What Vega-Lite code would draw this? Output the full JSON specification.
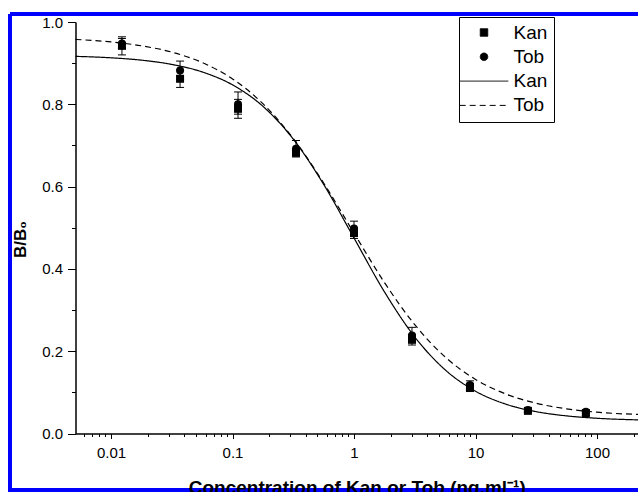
{
  "$schema": "https://vega.github.io/schema/vega-lite/v6.json",
  "width": 660,
  "height": 476,
  "autosize": "none",
  "padding": {"left": 10, "top": 14, "right": -32, "bottom": 2},
  "background": "white",
  "view": {"stroke": "#0000ff", "strokeWidth": 4, "strokeDash": [660, 476, 1136, 0]},
  "config": {
    "font": "Liberation Sans",
    "axis": {
      "grid": false,
      "domainColor": "black",
      "domainWidth": 1.5,
      "tickColor": "black",
      "tickWidth": 1,
      "labelColor": "black",
      "titleColor": "black",
      "labelFont": "Liberation Sans",
      "titleFont": "Liberation Sans",
      "labelFontSize": 15,
      "titleFontWeight": "bold"
    }
  },
  "datasets": {
    "pts": [
      {"x": 0.0123, "y": 0.942, "lo": 0.920, "hi": 0.964, "key": "Kan pts"},
      {"x": 0.037, "y": 0.862, "lo": 0.841, "hi": 0.883, "key": "Kan pts"},
      {"x": 0.111, "y": 0.789, "lo": 0.766, "hi": 0.812, "key": "Kan pts"},
      {"x": 0.333, "y": 0.682, "lo": 0.672, "hi": 0.692, "key": "Kan pts"},
      {"x": 1, "y": 0.487, "lo": 0.474, "hi": 0.500, "key": "Kan pts"},
      {"x": 3, "y": 0.228, "lo": 0.215, "hi": 0.241, "key": "Kan pts"},
      {"x": 9, "y": 0.112, "lo": 0.102, "hi": 0.122, "key": "Kan pts"},
      {"x": 27, "y": 0.055, "lo": 0.051, "hi": 0.059, "key": "Kan pts"},
      {"x": 81, "y": 0.049, "lo": 0.044, "hi": 0.054, "key": "Kan pts"},
      {"x": 0.0123, "y": 0.948, "lo": 0.936, "hi": 0.960, "key": "Tob pts"},
      {"x": 0.037, "y": 0.882, "lo": 0.860, "hi": 0.905, "key": "Tob pts"},
      {"x": 0.111, "y": 0.800, "lo": 0.776, "hi": 0.830, "key": "Tob pts"},
      {"x": 0.333, "y": 0.692, "lo": 0.675, "hi": 0.712, "key": "Tob pts"},
      {"x": 1, "y": 0.498, "lo": 0.482, "hi": 0.516, "key": "Tob pts"},
      {"x": 3, "y": 0.238, "lo": 0.220, "hi": 0.258, "key": "Tob pts"},
      {"x": 9, "y": 0.118, "lo": 0.108, "hi": 0.128, "key": "Tob pts"},
      {"x": 27, "y": 0.057, "lo": 0.053, "hi": 0.061, "key": "Tob pts"},
      {"x": 81, "y": 0.053, "lo": 0.048, "hi": 0.058, "key": "Tob pts"}
    ],
    "fit": [
      {"x": 0.0051, "y": 0.9165, "key": "Kan fit"},
      {"x": 0.01, "y": 0.9130, "key": "Kan fit"},
      {"x": 0.01778, "y": 0.9073, "key": "Kan fit"},
      {"x": 0.03162, "y": 0.8969, "key": "Kan fit"},
      {"x": 0.05623, "y": 0.8787, "key": "Kan fit"},
      {"x": 0.1, "y": 0.8472, "key": "Kan fit"},
      {"x": 0.1778, "y": 0.7952, "key": "Kan fit"},
      {"x": 0.3162, "y": 0.7154, "key": "Kan fit"},
      {"x": 0.5623, "y": 0.6055, "key": "Kan fit"},
      {"x": 1, "y": 0.4750, "key": "Kan fit"},
      {"x": 1.778, "y": 0.3445, "key": "Kan fit"},
      {"x": 3.162, "y": 0.2346, "key": "Kan fit"},
      {"x": 5.623, "y": 0.1548, "key": "Kan fit"},
      {"x": 10, "y": 0.1028, "key": "Kan fit"},
      {"x": 17.78, "y": 0.0713, "key": "Kan fit"},
      {"x": 31.62, "y": 0.0531, "key": "Kan fit"},
      {"x": 56.23, "y": 0.0428, "key": "Kan fit"},
      {"x": 100, "y": 0.0370, "key": "Kan fit"},
      {"x": 217.5, "y": 0.0331, "key": "Kan fit"},
      {"x": 0.0051, "y": 0.9577, "key": "Tob fit"},
      {"x": 0.01, "y": 0.9515, "key": "Tob fit"},
      {"x": 0.01778, "y": 0.9422, "key": "Tob fit"},
      {"x": 0.03162, "y": 0.9268, "key": "Tob fit"},
      {"x": 0.05623, "y": 0.9016, "key": "Tob fit"},
      {"x": 0.1, "y": 0.8617, "key": "Tob fit"},
      {"x": 0.1778, "y": 0.8015, "key": "Tob fit"},
      {"x": 0.3162, "y": 0.7168, "key": "Tob fit"},
      {"x": 0.5623, "y": 0.6088, "key": "Tob fit"},
      {"x": 1, "y": 0.4869, "key": "Tob fit"},
      {"x": 1.778, "y": 0.3672, "key": "Tob fit"},
      {"x": 3.162, "y": 0.2645, "key": "Tob fit"},
      {"x": 5.623, "y": 0.1861, "key": "Tob fit"},
      {"x": 10, "y": 0.1315, "key": "Tob fit"},
      {"x": 17.78, "y": 0.0959, "key": "Tob fit"},
      {"x": 31.62, "y": 0.0736, "key": "Tob fit"},
      {"x": 56.23, "y": 0.0599, "key": "Tob fit"},
      {"x": 100, "y": 0.0518, "key": "Tob fit"},
      {"x": 217.5, "y": 0.0463, "key": "Tob fit"}
    ]
  },
  "encoding": {
    "x": {
      "field": "x",
      "type": "quantitative",
      "title": "Concentration of Kan or Tob (ng.ml⁻¹)",
      "scale": {"type": "log", "domain": [0.0051, 217.5], "range": [65.5, 628], "nice": false},
      "axis": {
        "orient": "bottom",
        "offset": -56.5,
        "values": [0.006, 0.007, 0.008, 0.009, 0.01, 0.02, 0.03, 0.04, 0.05, 0.06, 0.07, 0.08, 0.09, 0.1, 0.2, 0.3, 0.4, 0.5, 0.6, 0.7, 0.8, 0.9, 1, 2, 3, 4, 5, 6, 7, 8, 9, 10, 20, 30, 40, 50, 60, 70, 80, 90, 100, 200],
        "format": "~g",
        "labelExpr": "abs(log(datum.value)/LN10 - round(log(datum.value)/LN10)) < 0.000001 ? datum.label : ''",
        "tickSize": {"condition": {"test": "abs(log(datum.value)/LN10 - round(log(datum.value)/LN10)) < 0.000001", "value": 5}, "value": 3},
        "labelPadding": 7,
        "labelOverlap": false,
        "labelFlush": false,
        "titleFontSize": 19,
        "titlePadding": 18
      }
    }
  },
  "layer": [
    {
      "data": {"name": "fit"},
      "mark": {"type": "line", "interpolate": "monotone", "color": "black", "strokeWidth": 1.2},
      "encoding": {
        "y": {
          "field": "y",
          "type": "quantitative",
          "title": "B/B₀",
          "scale": {"domain": [0, 1], "range": [419.5, 8], "nice": false, "zero": false},
          "axis": {
            "orient": "left",
            "offset": -65.5,
            "values": [0, 0.1, 0.2, 0.3, 0.4, 0.5, 0.6, 0.7, 0.8, 0.9, 1],
            "format": ".1f",
            "labelExpr": "round(datum.value*10) % 2 == 0 ? datum.label : ''",
            "tickSize": {"condition": {"test": "round(datum.value*10) % 2 == 0", "value": 8}, "value": 4},
            "labelPadding": 5,
            "labelOverlap": false,
            "titleFontSize": 17,
            "titlePadding": 12,
            "titleY": 225
          }
        },
        "strokeDash": {
          "field": "key",
          "type": "nominal",
          "scale": {"domain": ["Kan pts", "Tob pts", "Kan fit", "Tob fit"], "range": [[1, 0], [1, 0], [1, 0], [6, 4]]},
          "legend": {
            "title": null,
            "orient": "none",
            "legendX": 449,
            "legendY": 3,
            "direction": "vertical",
            "labelExpr": "split(datum.label, ' ')[0] + '  '",
            "labelFont": "Liberation Sans",
            "labelFontSize": 19,
            "labelColor": "black",
            "symbolSize": 56,
            "symbolOffset": 9.5,
            "labelOffset": 20,
            "rowPadding": 4.3,
            "padding": 6,
            "strokeColor": "black",
            "fillColor": "white",
            "symbolStrokeWidth": 1,
            "symbolFillColor": "black",
            "symbolStrokeColor": "black",
            "encode": {"symbols": {"update": {"fill": {"value": "black"}, "fillOpacity": {"value": 1}, "stroke": {"value": "black"}, "strokeOpacity": {"value": 1}, "strokeWidth": {"value": 1}, "opacity": {"value": 1}}}}
          }
        }
      }
    },
    {
      "data": {"name": "pts"},
      "mark": {"type": "rule", "color": "black", "strokeWidth": 1},
      "encoding": {
        "y": {"field": "lo", "type": "quantitative", "title": "B/B₀", "scale": {"domain": [0, 1], "range": [419.5, 8], "nice": false, "zero": false}},
        "y2": {"field": "hi"}
      }
    },
    {
      "data": {"name": "pts"},
      "mark": {"type": "point", "shape": "stroke", "size": 64, "color": "black", "strokeWidth": 1, "filled": false, "opacity": 1},
      "encoding": {
        "y": {"field": "lo", "type": "quantitative", "title": "B/B₀", "scale": {"domain": [0, 1], "range": [419.5, 8], "nice": false, "zero": false}}
      }
    },
    {
      "data": {"name": "pts"},
      "mark": {"type": "point", "shape": "stroke", "size": 64, "color": "black", "strokeWidth": 1, "filled": false, "opacity": 1},
      "encoding": {
        "y": {"field": "hi", "type": "quantitative", "title": "B/B₀", "scale": {"domain": [0, 1], "range": [419.5, 8], "nice": false, "zero": false}}
      }
    },
    {
      "data": {"name": "pts"},
      "mark": {"type": "point", "filled": true, "color": "black", "size": 64, "opacity": 1},
      "encoding": {
        "y": {"field": "y", "type": "quantitative", "title": "B/B₀", "scale": {"domain": [0, 1], "range": [419.5, 8], "nice": false, "zero": false}},
        "shape": {
          "field": "key",
          "type": "nominal",
          "scale": {"domain": ["Kan pts", "Tob pts", "Kan fit", "Tob fit"], "range": ["square", "circle", "M-6.5,0H6.5", "M-6.5,0H6.5"]},
          "legend": {
            "title": null,
            "orient": "none",
            "legendX": 449,
            "legendY": 3,
            "direction": "vertical",
            "labelExpr": "split(datum.label, ' ')[0] + '  '",
            "labelFont": "Liberation Sans",
            "labelFontSize": 19,
            "labelColor": "black",
            "symbolSize": 56,
            "symbolOffset": 9.5,
            "labelOffset": 20,
            "rowPadding": 4.3,
            "padding": 6,
            "strokeColor": "black",
            "fillColor": "white",
            "symbolStrokeWidth": 1,
            "symbolFillColor": "black",
            "symbolStrokeColor": "black",
            "encode": {"symbols": {"update": {"fill": {"value": "black"}, "fillOpacity": {"value": 1}, "stroke": {"value": "black"}, "strokeOpacity": {"value": 1}, "strokeWidth": {"value": 1}, "opacity": {"value": 1}}}}
          }
        }
      }
    }
  ]
}
